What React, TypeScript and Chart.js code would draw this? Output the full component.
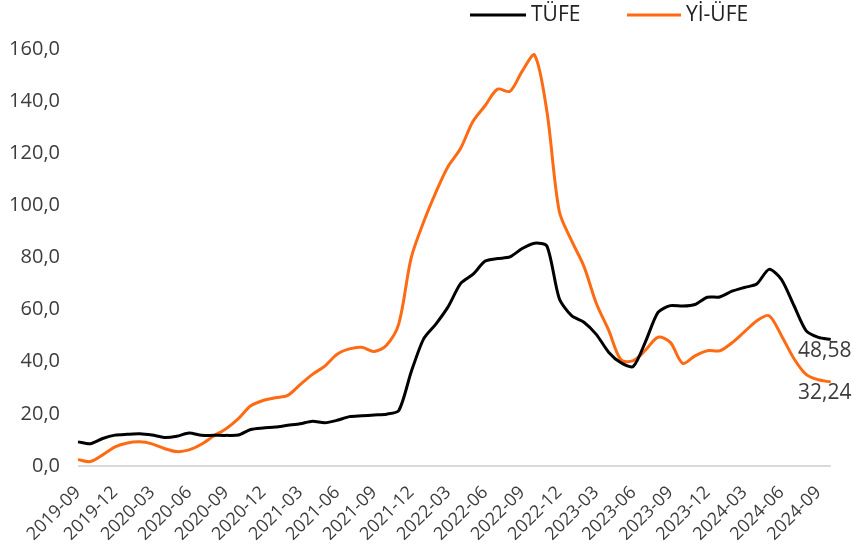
import React, { useEffect, useRef } from "react";
import { Chart, registerables } from "chart.js";

Chart.register(...registerables);

const months: string[] = [
  "2019-09","2019-10","2019-11","2019-12",
  "2020-01","2020-02","2020-03","2020-04","2020-05","2020-06","2020-07","2020-08","2020-09","2020-10","2020-11","2020-12",
  "2021-01","2021-02","2021-03","2021-04","2021-05","2021-06","2021-07","2021-08","2021-09","2021-10","2021-11","2021-12",
  "2022-01","2022-02","2022-03","2022-04","2022-05","2022-06","2022-07","2022-08","2022-09","2022-10","2022-11","2022-12",
  "2023-01","2023-02","2023-03","2023-04","2023-05","2023-06","2023-07","2023-08","2023-09","2023-10","2023-11","2023-12",
  "2024-01","2024-02","2024-03","2024-04","2024-05","2024-06","2024-07","2024-08","2024-09","2024-10",
];

const tufe: number[] = [
  9.26, 8.55, 10.56, 11.84,
  12.15, 12.37, 11.86, 10.94, 11.39, 12.62, 11.76, 11.77, 11.75, 11.89, 14.03, 14.6,
  14.97, 15.61, 16.19, 17.14, 16.59, 17.53, 18.95, 19.25, 19.58, 19.89, 21.31, 36.08,
  48.69, 54.44, 61.14, 69.97, 73.5, 78.62, 79.6, 80.21, 83.45, 85.51, 84.39, 64.27,
  57.68, 55.18, 50.51, 43.68, 39.59, 38.21, 47.83, 58.94, 61.53, 61.36, 61.98, 64.77,
  64.86, 67.07, 68.5, 69.8, 75.45, 71.6, 61.78, 51.97, 49.38, 48.58,
];

const yiufe: number[] = [
  2.45, 1.7, 4.26, 7.36,
  8.84, 9.26, 8.5, 6.71, 5.53, 6.17, 8.33, 11.53, 14.33, 18.2, 23.11, 25.15,
  26.16, 27.09, 31.2, 35.17, 38.33, 42.89, 44.92, 45.52, 43.96, 46.31, 54.62, 79.89,
  93.53, 105.01, 114.97, 121.82, 132.16, 138.31, 144.61, 143.75, 151.5, 157.69, 136.02, 97.72,
  86.46, 76.61, 62.45, 52.11, 40.76, 40.42, 44.5, 49.41, 47.44, 39.39, 42.25, 44.22,
  44.2, 47.29, 51.47, 55.66, 57.68, 50.09, 41.37, 35.17, 33.09, 32.24,
];

const seriesNames: string[] = ["TÜFE", "Yİ-ÜFE"];
const seriesColors: string[] = ["#000000", "#FF6A13"];
const yTicks: number[] = [0, 20, 40, 60, 80, 100, 120, 140, 160];

const FONT = "'Open Sans', 'DejaVu Sans', sans-serif";
const TEXT = "#3c3c3c";

const fmt = (v: number, d: number) => v.toFixed(d).replace(".", ",");

const overlayPlugin = {
  id: "overlay",
  afterDatasetsDraw(chart: any) {
    const ctx = chart.ctx;
    ctx.save();
    ctx.font = `21px ${FONT}`;
    ctx.fillStyle = TEXT;
    ctx.textAlign = "center";
    ctx.textBaseline = "top";
    chart.data.datasets.forEach((ds: any, i: number) => {
      const meta = chart.getDatasetMeta(i);
      const last = meta.data[meta.data.length - 1];
      const v = ds.data[ds.data.length - 1];
      ctx.fillText(fmt(v, 2), last.x - 6, last.y + 1);
    });
    const items = [
      { x: 470, w: 56 },
      { x: 627, w: 54 },
    ];
    ctx.textAlign = "left";
    ctx.textBaseline = "middle";
    ctx.font = `21px ${FONT}`;
    items.forEach((it, i) => {
      ctx.strokeStyle = seriesColors[i];
      ctx.lineWidth = 3;
      ctx.beginPath();
      ctx.moveTo(it.x, 15);
      ctx.lineTo(it.x + it.w, 15);
      ctx.stroke();
      ctx.fillStyle = "#222";
      ctx.fillText(seriesNames[i], it.x + it.w + 5, 15);
    });
    ctx.restore();
  },
};

export default function App() {
  const ref = useRef<HTMLCanvasElement | null>(null);
  useEffect(() => {
    if (!ref.current) return;
    const chart = new Chart(ref.current, {
      type: "line",
      data: {
        labels: months,
        datasets: [
          {
            label: seriesNames[0],
            data: tufe,
            borderColor: seriesColors[0],
            borderWidth: 3,
            pointRadius: 0,
            tension: 0.25,
          },
          {
            label: seriesNames[1],
            data: yiufe,
            borderColor: seriesColors[1],
            borderWidth: 3,
            pointRadius: 0,
            tension: 0.3,
          },
        ],
      },
      options: {
        animation: false,
        responsive: false,
        maintainAspectRatio: false,
        layout: { padding: { top: 49, right: 23, left: 0, bottom: 0 } },
        plugins: {
          legend: { display: false },
          tooltip: { enabled: false },
        },
        scales: {
          x: {
            offset: false,
            grid: { display: false },
            border: { display: false },
            ticks: {
              autoSkip: false,
              minRotation: 45,
              maxRotation: 45,
              color: TEXT,
              font: { family: FONT, size: 18 },
              padding: 8,
              callback: (_v: any, i: number) => (i % 3 === 0 ? months[i] : ""),
            },
            afterFit: (s: any) => {
              s.height = 92;
            },
          },
          y: {
            min: 0,
            max: 160,
            afterBuildTicks: (s: any) => {
              s.ticks = yTicks.map((v) => ({ value: v }));
            },
            grid: {
              drawTicks: false,
              color: (c: any) => (c.tick && c.tick.value === 0 ? "#d9d9d9" : "rgba(0,0,0,0)"),
              lineWidth: 2,
            },
            border: { display: false },
            ticks: {
              color: TEXT,
              font: { family: FONT, size: 20 },
              padding: 18,
              callback: (v: any) => fmt(Number(v), 1),
            },
            afterFit: (s: any) => {
              s.width = 78;
            },
          },
        },
      },
      plugins: [overlayPlugin],
    });
    return () => chart.destroy();
  }, []);
  return (
    <div style={{ position: "fixed", left: 0, top: 0, width: 854, height: 558, background: "#fff" }}>
      <canvas ref={ref} width={854} height={558} style={{ width: 854, height: 558 }} />
    </div>
  );
}
